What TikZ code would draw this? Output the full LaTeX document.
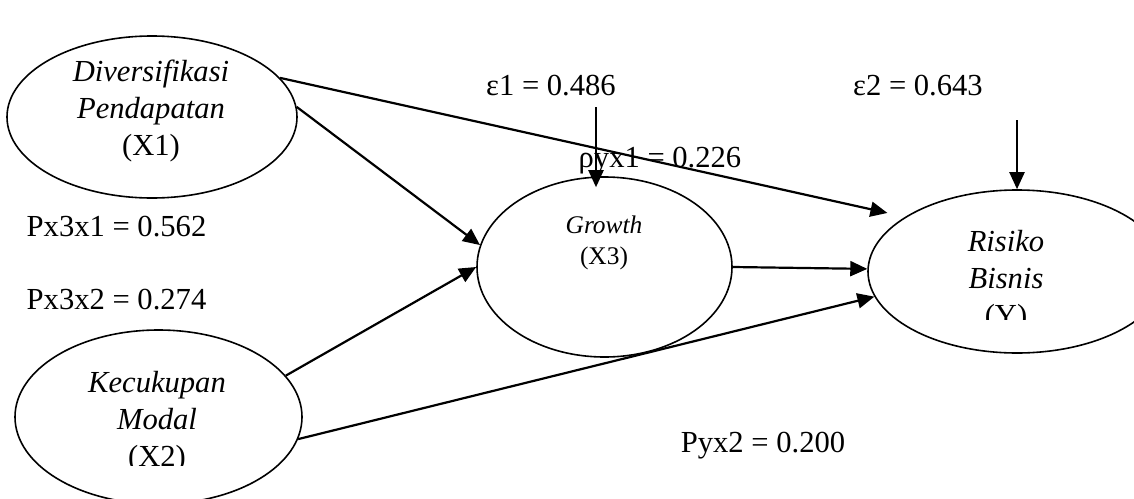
\documentclass[tikz,border=0pt]{standalone}
\usepackage{fontspec}
\setmainfont{Liberation Serif}
\usetikzlibrary{shapes.geometric,arrows.meta}
\begin{document}
\begin{tikzpicture}[x=0.5pt,y=-0.5pt,
  ell/.style={draw,ellipse,line width=0.8pt,inner sep=0pt},
  arr/.style={-{Triangle[length=8.5pt,width=7.5pt]},line width=1.1pt},
  lbl/.style={anchor=base,font=\fontsize{15.3}{18}\selectfont,inner sep=0pt},
  vname/.style={align=center,font=\fontsize{15.3}{18.5}\selectfont\itshape,inner sep=0pt}]
\useasboundingbox (0,0) rectangle (1134,498);
\clip (0,0) rectangle (1134,498);

% ellipses
\node[ell,minimum width=145pt,minimum height=81pt] (x1) at (152,117) {};
\node[ell,minimum width=143.5pt,minimum height=87pt] (x2) at (158.5,417) {};
\node[ell,minimum width=127.5pt,minimum height=90pt] (x3) at (604.5,267) {};
\node[ell,minimum width=149pt,minimum height=81.5pt] (y) at (1017,271.5) {};

% texts inside ellipses
\node[vname] (tx1) at (151,110.5) {Diversifikasi\\Pendapatan\\\textup{(X1)}};
\begin{scope}
\clip (0,340) rectangle (320,465);
\node[vname] (tx2) at (157,422.5) {Kecukupan\\Modal\\\textup{(X2)}};
\end{scope}
\node[align=center,inner sep=0pt,font=\fontsize{12.7}{15.5}\selectfont] (tx3) at (604,242.7) {\textit{Growth}\\(X3)};
\begin{scope}
\clip (880,200) rectangle (1134,319);
\node[vname] (ty) at (1006,281.5) {Risiko\\Bisnis\\\textup{(Y)}};
\end{scope}

% labels
\node[lbl] (le1) at (551,95) {ε1 = 0.486};
\node[lbl] (le2) at (918,95) {ε2 = 0.643};
\node[lbl] (lr1) at (660,167) {ρyx1 = 0.226};
\node[lbl] (lp31) at (116.5,236) {Px3x1 = 0.562};
\node[lbl] (lp32) at (116.5,309) {Px3x2 = 0.274};
\node[lbl] (lpy2) at (763,452) {Pyx2 = 0.200};

% error arrows
\coordinate (e1top) at (596,107);
\coordinate (e2top) at (1017,120);
\draw[arr,shorten >=-5.5pt] (e1top) -- (e1top |- x3.north);
\draw[arr] (e2top) -- (y.north);

% paths
\draw[arr,shorten >=9pt] (x1.17) -- (y.154);
\draw[arr] (x1.4) -- (x3.170);
\draw[arr] (x2.18) -- (x3.180);
\draw[arr] (x3.0) -- (y.179);
\draw[arr] (x2.-9) -- (y.190);
\end{tikzpicture}
\end{document}
